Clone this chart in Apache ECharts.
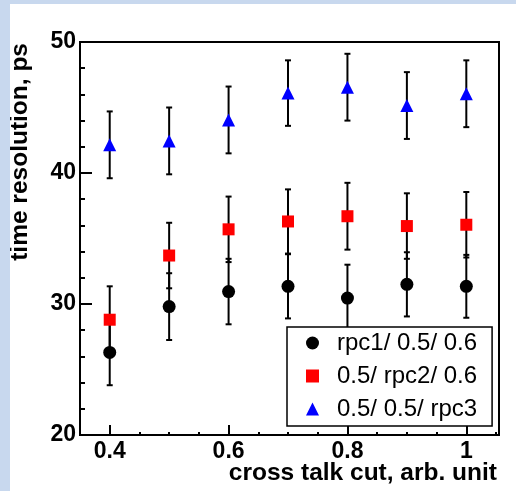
<!DOCTYPE html>
<html>
<head>
<meta charset="UTF-8">
<title>time resolution vs cross talk cut</title>
<script src="https://cdn.jsdelivr.net/npm/echarts@6/dist/echarts.min.js"></script>
<style>
body { margin: 0; background: #c8d8ee; }
#main { position: absolute; left: 10px; top: 4px; width: 506px; height: 487px; background: #fff; }
</style>
</head>
<body>
<div id="main"></div>
<script type="text/javascript">
// cross talk cut values
var cuts = [0.4, 0.5, 0.6, 0.7, 0.8, 0.9, 1.0];

// time resolution (ps) and errors
var rpc1 = [26.3, 29.8, 30.95, 31.35, 30.45, 31.5, 31.35];
var rpc1Err = [2.5, 2.55, 2.5, 2.45, 2.55, 2.45, 2.4];
var rpc2 = [28.8, 33.7, 35.7, 36.3, 36.7, 35.95, 36.05];
var rpc2Err = [2.55, 2.5, 2.5, 2.45, 2.55, 2.5, 2.5];
var rpc3 = [42.15, 42.45, 44.05, 46.1, 46.55, 45.15, 46.05];
var rpc3Err = [2.55, 2.55, 2.55, 2.5, 2.55, 2.55, 2.55];

var names = ['rpc1/ 0.5/ 0.6', '0.5/ rpc2/ 0.6', '0.5/ 0.5/ rpc3'];

// tick labels
var xMajorTicks = [0.4, 0.6, 0.8, 1.0];
var xMinorTicks = [0.45, 0.5, 0.55, 0.65, 0.7, 0.75, 0.85, 0.9, 0.95, 1.05];

var FONT = "'Liberation Sans', Arial, Helvetica, sans-serif";

function errData(vals, errs) {
    var out = [];
    for (var i = 0; i < cuts.length; i++) {
        out.push([cuts[i], vals[i] - errs[i], vals[i] + errs[i]]);
    }
    return out;
}

function pts(vals) {
    var out = [];
    for (var i = 0; i < cuts.length; i++) out.push([cuts[i], vals[i]]);
    return out;
}

function errBars(name, vals, errs) {
    return {
        name: name + ' err',
        type: 'custom',
        z: 2,
        encode: { x: 0, y: [1, 2] },
        data: errData(vals, errs),
        renderItem: function (params, api) {
            var lo = api.coord([api.value(0), api.value(1)]);
            var hi = api.coord([api.value(0), api.value(2)]);
            var w = 3;
            var st = { stroke: '#000', lineWidth: 2 };
            return {
                type: 'group',
                children: [
                    { type: 'line', shape: { x1: lo[0], y1: lo[1], x2: hi[0], y2: hi[1] }, style: st },
                    { type: 'line', shape: { x1: lo[0] - w, y1: lo[1], x2: lo[0] + w, y2: lo[1] }, style: st },
                    { type: 'line', shape: { x1: hi[0] - w, y1: hi[1], x2: hi[0] + w, y2: hi[1] }, style: st }
                ]
            };
        }
    };
}

var myChart = echarts.init(document.getElementById('main'));

var option = {
    backgroundColor: '#fff',
    animation: false,
    textStyle: { fontFamily: FONT },
    grid: {
        left: 70, right: 17, top: 38, bottom: 56,
        show: true, borderColor: '#000', borderWidth: 2,
        containLabel: false, outerBoundsMode: 'none'
    },
    legend: {
        data: names,
        orient: 'vertical',
        left: 277, top: 323,
        padding: [4, 15, 5, 19],
        itemGap: 9,
        itemWidth: 13, itemHeight: 13,
        symbolKeepAspect: true,
        backgroundColor: '#fff',
        borderColor: '#000', borderWidth: 1.5,
        textStyle: { fontFamily: FONT, fontSize: 24, color: '#000', lineHeight: 24, padding: [0, 0, 0, 13] }
    },
    xAxis: [{
        type: 'value', min: 0.35, max: 1.055,
        axisLine: { show: true, onZero: false, lineStyle: { color: '#000', width: 2 } },
        axisTick: { show: true, inside: true, length: 3, lineStyle: { color: '#000', width: 2 }, customValues: xMinorTicks },
        axisLabel: { show: false },
        splitLine: { show: false }
    }, {
        type: 'value', min: 0.35, max: 1.055, position: 'bottom',
        axisLine: { show: false, onZero: false },
        axisTick: { show: true, inside: true, length: 10, lineStyle: { color: '#000', width: 2 }, customValues: xMajorTicks },
        axisLabel: {
            customValues: xMajorTicks, margin: 5,
            fontFamily: FONT, fontSize: 23, fontWeight: 'bold', color: '#000',
            formatter: function (v) { return String(Math.round(v * 10) / 10); }
        },
        splitLine: { show: false },
        name: 'cross talk cut, arb. unit',
        nameLocation: 'end', nameGap: -2, nameMoveOverlap: false,
        nameTextStyle: {
            fontFamily: FONT, fontSize: 24.5, fontWeight: 'bold', color: '#000',
            align: 'right', verticalAlign: 'top', padding: [26, 0, 0, 0]
        }
    }],
    yAxis: [{
        type: 'value', min: 20, max: 50, interval: 10,
        axisLine: { show: true, onZero: false, lineStyle: { color: '#000', width: 2 } },
        axisTick: { show: true, inside: true, length: 12, lineStyle: { color: '#000', width: 2 } },
        minorTick: { show: true, splitNumber: 5, length: 5, lineStyle: { color: '#000', width: 2 } },
        axisLabel: { margin: 4, fontFamily: FONT, fontSize: 23, fontWeight: 'bold', color: '#000' },
        splitLine: { show: false }
    }, {
        type: 'value', min: 20, max: 50, position: 'left', offset: 47,
        axisLine: { show: false }, axisTick: { show: false }, axisLabel: { show: false },
        splitLine: { show: false },
        name: 'time resolution, ps',
        nameLocation: 'end', nameRotate: 90, nameGap: -1, nameMoveOverlap: false,
        nameTextStyle: {
            fontFamily: FONT, fontSize: 24.5, fontWeight: 'bold', color: '#000',
            align: 'right', verticalAlign: 'bottom'
        }
    }],
    series: [
        errBars(names[0], rpc1, rpc1Err),
        errBars(names[1], rpc2, rpc2Err),
        errBars(names[2], rpc3, rpc3Err),
        { name: names[0], type: 'scatter', z: 3, symbol: 'circle', symbolSize: 13,
          itemStyle: { color: '#000', opacity: 1 }, data: pts(rpc1) },
        { name: names[1], type: 'scatter', z: 3, symbol: 'rect', symbolSize: 12,
          itemStyle: { color: '#ff0000', opacity: 1 }, data: pts(rpc2) },
        { name: names[2], type: 'scatter', z: 3, symbol: 'triangle', symbolSize: 13,
          itemStyle: { color: '#0000ff', opacity: 1 }, data: pts(rpc3) }
    ]
};

myChart.setOption(option);
</script>
</body>
</html>
